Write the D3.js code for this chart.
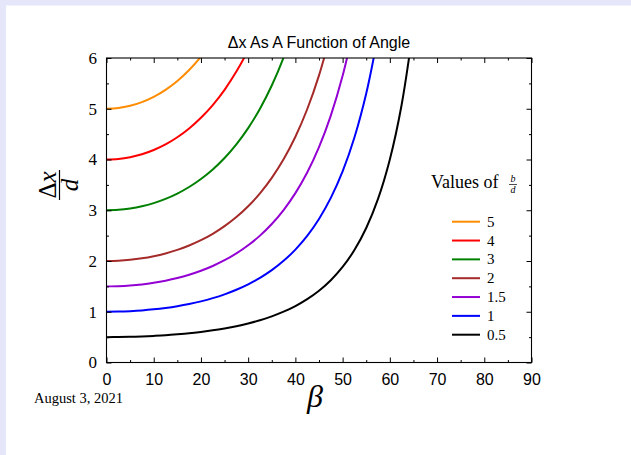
<!DOCTYPE html>
<html>
<head>
<meta charset="utf-8">
<script src="https://cdn.jsdelivr.net/npm/d3@7"></script>
<style>
  body { margin: 0; background: #fff; }
  svg { display: block; }
</style>
</head>
<body>
<div class="chart"></div>
<script>
// beta in degrees, read every 2.5 deg
let betaDeg = [0, 2.5, 5, 7.5, 10, 12.5, 15, 17.5, 20, 22.5, 25, 27.5, 30, 32.5,
  35, 37.5, 40, 42.5, 45, 47.5, 50, 52.5, 55, 57.5, 60, 62.5, 65];

let bd5 = [5.000, 5.014, 5.058, 5.131, 5.235, 5.373, 5.548, 5.764, 6.026, 6.341];
let bd4 = [4.000, 4.011, 4.046, 4.104, 4.188, 4.298, 4.438, 4.611, 4.821, 5.072, 5.373, 5.732,
  6.158, 6.668];
let bd3 = [3.000, 3.009, 3.035, 3.078, 3.141, 3.224, 3.329, 3.458, 3.616, 3.804, 4.030, 4.299,
  4.619, 5.001, 5.458, 6.008, 6.674];
let bd2 = [2.000, 2.006, 2.023, 2.052, 2.094, 2.149, 2.219, 2.306, 2.410, 2.536, 2.687, 2.866,
  3.079, 3.334, 3.639, 4.005, 4.449, 4.990, 5.657, 6.486];
let bd15 = [1.500, 1.504, 1.517, 1.539, 1.571, 1.612, 1.664, 1.729, 1.808, 1.902, 2.015, 2.149,
  2.309, 2.500, 2.729, 3.004, 3.337, 3.743, 4.243, 4.865, 5.648, 6.649];
let bd1 = [1.000, 1.003, 1.012, 1.026, 1.047, 1.075, 1.110, 1.153, 1.205, 1.268, 1.343, 1.433,
  1.540, 1.667, 1.819, 2.003, 2.225, 2.495, 2.828, 3.243, 3.765, 4.433, 5.299, 6.447];
let bd05 = [0.500, 0.501, 0.506, 0.513, 0.524, 0.537, 0.555, 0.576, 0.603, 0.634, 0.672, 0.716,
  0.770, 0.833, 0.910, 1.001, 1.112, 1.248, 1.414, 1.622, 1.883, 2.216, 2.650, 3.223, 4.000,
  5.079, 6.624];

let seriesLabels = ["5", "4", "3", "2", "1.5", "1", "0.5"];
let seriesValues = [bd5, bd4, bd3, bd2, bd15, bd1, bd05];
let seriesColors = ["#ff8c00", "#ff0000", "#008000", "#a52a2a", "#9400d3", "#0000ff", "#000000"];

let xMajorTicks = [0, 10, 20, 30, 40, 50, 60, 70, 80, 90];
let xMinorTicks = [5, 15, 25, 35, 45, 55, 65, 75, 85];
let yMajorTicks = [0, 1, 2, 3, 4, 5, 6];
let yMinorTicks = [0.5, 1.5, 2.5, 3.5, 4.5, 5.5];

let svgWidth = 631;
let svgHeight = 455;
let plot = { left: 106.5, right: 531.5, top: 58, bottom: 362.5 };

let serif = "'Liberation Serif', 'DejaVu Serif', serif";
let sans = "'Liberation Sans', 'DejaVu Sans', sans-serif";

let svg = d3.select(".chart")
  .append("svg")
  .attr("width", svgWidth)
  .attr("height", svgHeight);

// slide background
svg.append("rect").attr("width", svgWidth).attr("height", svgHeight).attr("fill", "#fff");
svg.append("rect").attr("width", svgWidth).attr("height", 5.5).attr("fill", "#e6e6fa");
svg.append("rect").attr("width", 6).attr("height", svgHeight).attr("fill", "#e6e6fa");

let x = d3.scaleLinear().domain([0, 90]).range([plot.left, plot.right]);
let y = d3.scaleLinear().domain([0, 6]).range([plot.bottom, plot.top]);

svg.append("clipPath").attr("id", "clip")
  .append("rect")
  .attr("x", plot.left).attr("y", plot.top)
  .attr("width", plot.right - plot.left).attr("height", plot.bottom - plot.top);

// curves
let line = d3.line()
  .x(d => x(d[0]))
  .y(d => y(d[1]))
  .curve(d3.curveCatmullRom.alpha(0.5));

seriesValues.forEach(function(vals, i) {
  let pts = vals.map((v, j) => [betaDeg[j], v]);
  svg.append("path")
    .attr("clip-path", "url(#clip)")
    .attr("d", line(pts))
    .attr("fill", "none")
    .attr("stroke", seriesColors[i])
    .attr("stroke-width", 2);
});

// axes, ticks pointing inward
function tickAxis(axis, transform) {
  let g = svg.append("g").attr("transform", transform).call(axis);
  g.select(".domain").remove();
  g.selectAll("line").attr("stroke", "#000").attr("stroke-width", 1);
  return g;
}

let bottomG = tickAxis(d3.axisBottom(x).tickValues(xMajorTicks).tickSizeInner(-5).tickSizeOuter(0),
  `translate(0, ${plot.bottom})`);
bottomG.selectAll("text")
  .attr("y", 22).attr("dy", null)
  .attr("font-family", sans).attr("font-size", 16).attr("fill", "#000");
tickAxis(d3.axisBottom(x).tickValues(xMinorTicks).tickSizeInner(-2.5).tickSizeOuter(0).tickFormat(""),
  `translate(0, ${plot.bottom})`);
tickAxis(d3.axisTop(x).tickValues(xMajorTicks).tickSizeInner(-5).tickSizeOuter(0).tickFormat(""),
  `translate(0, ${plot.top})`);
tickAxis(d3.axisTop(x).tickValues(xMinorTicks).tickSizeInner(-2.5).tickSizeOuter(0).tickFormat(""),
  `translate(0, ${plot.top})`);

let leftG = tickAxis(d3.axisLeft(y).tickValues(yMajorTicks).tickFormat(d3.format("d"))
    .tickSizeInner(-5).tickSizeOuter(0).tickPadding(9.5),
  `translate(${plot.left}, 0)`);
leftG.selectAll("text")
  .attr("font-family", serif).attr("font-size", 17).attr("fill", "#000");
tickAxis(d3.axisLeft(y).tickValues(yMinorTicks).tickSizeInner(-2.5).tickSizeOuter(0).tickFormat(""),
  `translate(${plot.left}, 0)`);
tickAxis(d3.axisRight(y).tickValues(yMajorTicks).tickSizeInner(-5).tickSizeOuter(0).tickFormat(""),
  `translate(${plot.right}, 0)`);
tickAxis(d3.axisRight(y).tickValues(yMinorTicks).tickSizeInner(-2.5).tickSizeOuter(0).tickFormat(""),
  `translate(${plot.right}, 0)`);

// frame
svg.append("rect")
  .attr("x", plot.left).attr("y", plot.top)
  .attr("width", plot.right - plot.left).attr("height", plot.bottom - plot.top)
  .attr("fill", "none").attr("stroke", "#000").attr("stroke-width", 1.1);

// title
svg.append("text")
  .attr("x", 319).attr("y", 48)
  .attr("text-anchor", "middle")
  .attr("font-family", sans).attr("font-size", 16)
  .text("Δx As A Function of Angle");

// x label
svg.append("text")
  .attr("x", 315).attr("y", 407)
  .attr("text-anchor", "middle")
  .attr("font-family", serif).attr("font-style", "italic").attr("font-size", 32)
  .text("β");

// y label: fraction Δx / d rotated
let yLab = svg.append("g").attr("transform", "translate(59.5, 185) rotate(-90)");
let num = yLab.append("text")
  .attr("x", 0).attr("y", -3.5)
  .attr("text-anchor", "middle")
  .attr("font-family", serif).attr("font-size", 25);
num.append("tspan").text("Δ");
num.append("tspan").attr("font-style", "italic").text("x");
yLab.append("line")
  .attr("x1", -15).attr("x2", 15).attr("y1", 0).attr("y2", 0)
  .attr("stroke", "#000").attr("stroke-width", 1.2);
yLab.append("text")
  .attr("x", 0).attr("y", 18.5)
  .attr("text-anchor", "middle")
  .attr("font-family", serif).attr("font-style", "italic").attr("font-size", 25)
  .text("d");

// date
svg.append("text")
  .attr("x", 34).attr("y", 403)
  .attr("font-family", serif).attr("font-size", 14.5)
  .text("August 3, 2021");

// legend
svg.append("text")
  .attr("x", 431).attr("y", 188)
  .attr("font-family", serif).attr("font-size", 18)
  .text("Values of");
svg.append("text")
  .attr("x", 513).attr("y", 182)
  .attr("text-anchor", "middle")
  .attr("font-family", serif).attr("font-style", "italic").attr("font-size", 10)
  .text("b");
svg.append("line")
  .attr("x1", 509).attr("x2", 517).attr("y1", 184.5).attr("y2", 184.5)
  .attr("stroke", "#000").attr("stroke-width", 0.7);
svg.append("text")
  .attr("x", 513).attr("y", 192.5)
  .attr("text-anchor", "middle")
  .attr("font-family", serif).attr("font-style", "italic").attr("font-size", 10)
  .text("d");

let legendY = d3.scaleLinear().domain([0, 6]).range([221.7, 334.7]);
let legend = svg.selectAll(".legend")
  .data(seriesLabels)
  .enter()
  .append("g")
  .attr("class", "legend")
  .attr("transform", (d, i) => `translate(0, ${legendY(i)})`);
legend.append("line")
  .attr("x1", 452).attr("x2", 480)
  .attr("stroke", (d, i) => seriesColors[i])
  .attr("stroke-width", 2);
legend.append("text")
  .attr("x", 487).attr("y", 5)
  .attr("font-family", serif).attr("font-size", 15)
  .text(d => d);
</script>
</body>
</html>
